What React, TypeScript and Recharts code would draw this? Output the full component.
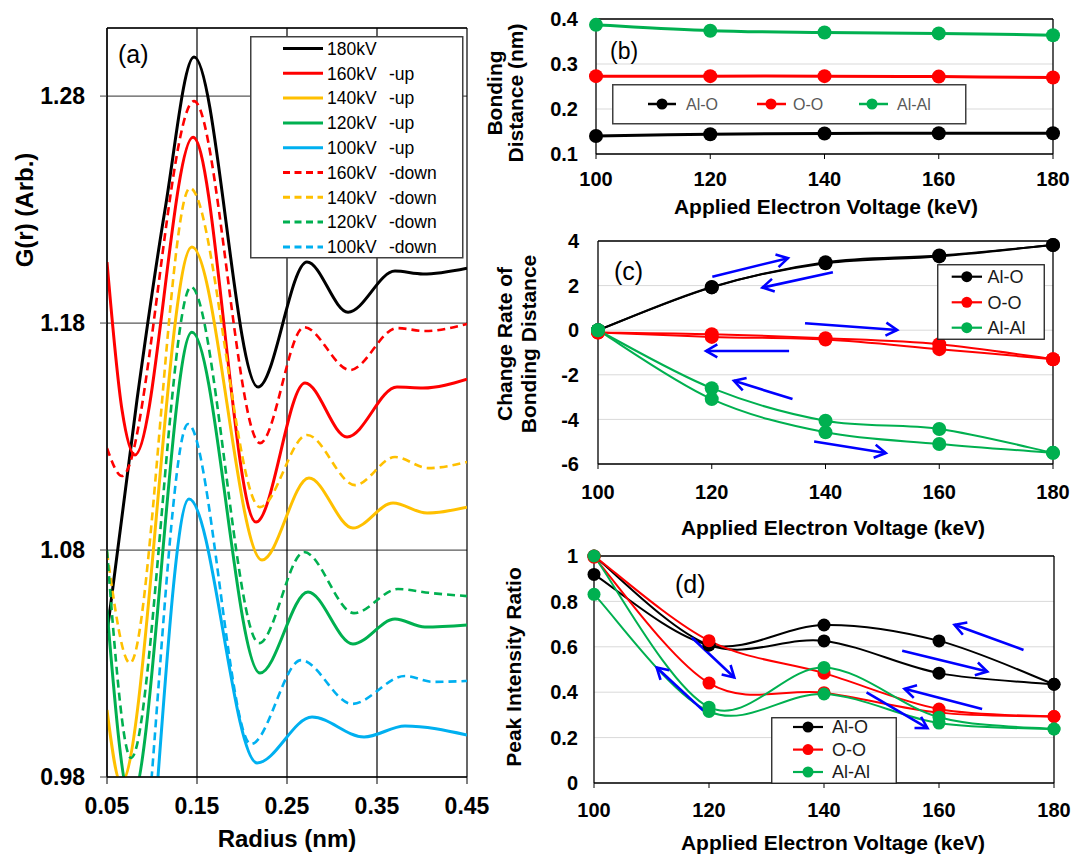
import React from 'react';
import { LineChart, Line, XAxis, YAxis, CartesianGrid, ReferenceLine, Legend } from 'recharts';

const FONT = '"Liberation Sans", Arial, Helvetica, sans-serif';

// ---------- Panel (a): G(r) curves ----------
const RADIUS_TICKS = [0.05, 0.15, 0.25, 0.35, 0.45];
const G_TICKS = [0.98, 1.08, 1.18, 1.28];
const G_DOMAIN = [0.98, 1.31];

const G_180KV = [[0.05, 1.0434], [0.0833, 1.1461], [0.1144, 1.2298], [0.1467, 1.2972], [0.2178, 1.1518], [0.2722, 1.2069], [0.3178, 1.1848], [0.37, 1.2029], [0.4011, 1.2016], [0.45, 1.2042]];
const G_160KV_UP = [[0.05, 1.2069], [0.0667, 1.1417], [0.0811, 1.1219], [0.1456, 1.2619], [0.2156, 1.0923], [0.27, 1.1536], [0.3167, 1.1298], [0.3722, 1.1518], [0.4011, 1.1514], [0.45, 1.1553]];
const G_140KV_UP = [[0.05, 1.0095], [0.0656, 0.9774], [0.1444, 1.2135], [0.2222, 1.0756], [0.2744, 1.1117], [0.3233, 1.0897], [0.3678, 1.1007], [0.4056, 1.0963], [0.45, 1.0989]];
const G_120KV_UP = [[0.05, 1.0536], [0.0767, 0.9694], [0.1444, 1.176], [0.22, 1.0258], [0.2733, 1.0615], [0.3233, 1.0386], [0.37, 1.0496], [0.4033, 1.0461], [0.45, 1.047]];
const G_100KV_UP = [[0.05, 0.8994], [0.0722, 0.8575], [0.1411, 1.1025], [0.2167, 0.9862], [0.2778, 1.0064], [0.3356, 0.9976], [0.3811, 1.0025], [0.45, 0.9985]];
const G_160KV_DOWN = [[0.05, 1.1249], [0.0667, 1.1126], [0.1467, 1.2778], [0.22, 1.1271], [0.2689, 1.1782], [0.32, 1.1593], [0.3722, 1.1778], [0.4033, 1.1765], [0.45, 1.1796]];
const G_140KV_DOWN = [[0.05, 1.0791], [0.0756, 1.0302], [0.1422, 1.2395], [0.22, 1.0989], [0.2722, 1.1307], [0.3256, 1.1086], [0.37, 1.121], [0.4067, 1.1161], [0.45, 1.1188]];
const G_120KV_DOWN = [[0.05, 1.08], [0.0767, 0.9884], [0.1433, 1.1959], [0.2189, 1.039], [0.2689, 1.0791], [0.3244, 1.0522], [0.3733, 1.0628], [0.4089, 1.0611], [0.45, 1.0597]];
const G_100KV_DOWN = [[0.05, 0.9346], [0.0733, 0.8981], [0.14, 1.1355], [0.21, 0.9945], [0.2656, 1.0315], [0.3222, 1.0122], [0.3811, 1.0245], [0.4122, 1.0219], [0.45, 1.0223]];

const G_SERIES = [
  { key: 'g180', label: '180kV', suffix: '', color: '#000000', dashed: false, pts: G_180KV },
  { key: 'g160u', label: '160kV', suffix: '-up', color: '#ff0000', dashed: false, pts: G_160KV_UP },
  { key: 'g140u', label: '140kV', suffix: '-up', color: '#ffc000', dashed: false, pts: G_140KV_UP },
  { key: 'g120u', label: '120kV', suffix: '-up', color: '#00b050', dashed: false, pts: G_120KV_UP },
  { key: 'g100u', label: '100kV', suffix: '-up', color: '#00b0f0', dashed: false, pts: G_100KV_UP },
  { key: 'g160d', label: '160kV', suffix: '-down', color: '#ff0000', dashed: true, pts: G_160KV_DOWN },
  { key: 'g140d', label: '140kV', suffix: '-down', color: '#ffc000', dashed: true, pts: G_140KV_DOWN },
  { key: 'g120d', label: '120kV', suffix: '-down', color: '#00b050', dashed: true, pts: G_120KV_DOWN },
  { key: 'g100d', label: '100kV', suffix: '-down', color: '#00b0f0', dashed: true, pts: G_100KV_DOWN },
];

// ---------- Panels (b)-(d) ----------
const VOLTAGES = [100, 120, 140, 160, 180];

const BOND_TICKS = [0.1, 0.2, 0.3, 0.4];
const BOND_ALO = [0.140, 0.144, 0.1456, 0.146, 0.146];
const BOND_OO = [0.273, 0.273, 0.273, 0.272, 0.270];
const BOND_ALAL = [0.387, 0.374, 0.370, 0.368, 0.364];

const RATE_TICKS = [-6, -4, -2, 0, 2, 4];
const RATE_ALO_UP = [0, 1.94, 3.0, 3.31, 3.82];
const RATE_ALO_DOWN = [0, 1.92, 3.05, 3.35, 3.82];
const RATE_OO_UP = [-0.1, -0.18, -0.36, -0.63, -1.3];
const RATE_OO_DOWN = [-0.1, -0.3, -0.42, -0.85, -1.3];
const RATE_ALAL_UP = [0, -3.09, -4.58, -5.1, -5.5];
const RATE_ALAL_DOWN = [0, -2.6, -4.06, -4.43, -5.5];

const PEAK_TICKS = [0, 0.2, 0.4, 0.6, 0.8, 1];
const PEAK_ALO_UP = [1.0, 0.608, 0.626, 0.484, 0.435];
const PEAK_ALO_DOWN = [0.919, 0.608, 0.696, 0.626, 0.435];
const PEAK_OO_UP = [1.0, 0.627, 0.484, 0.326, 0.293];
const PEAK_OO_DOWN = [0.995, 0.44, 0.398, 0.31, 0.293];
const PEAK_ALAL_UP = [1.0, 0.334, 0.509, 0.29, 0.238];
const PEAK_ALAL_DOWN = [0.831, 0.315, 0.392, 0.264, 0.238];

// blue direction arrows, in data units: [x1, y1, x2(head), y2(head)]
const RATE_ARROWS = [
  [120.1, 2.40, 133.4, 3.23],
  [141.3, 2.60, 128.9, 1.91],
  [136.4, 0.31, 152.6, 0.01],
  [133.6, -0.93, 119.0, -0.93],
  [134.2, -3.09, 123.9, -2.27],
  [138.0, -4.99, 150.6, -5.51],
];
const PEAK_ARROWS = [
  [117.0, 0.641, 124.4, 0.465],
  [119.0, 0.319, 110.9, 0.509],
  [174.7, 0.586, 162.7, 0.697],
  [153.6, 0.583, 168.4, 0.491],
  [167.5, 0.326, 154.0, 0.415],
  [147.4, 0.399, 158.0, 0.242],
];

const BLACK = '#000000';
const RED = '#ff0000';
const GREEN = '#00b050';

const BOND_TABLE = VOLTAGES.map((v, i) => ({ x: v, alo: BOND_ALO[i], oo: BOND_OO[i], alal: BOND_ALAL[i] }));
const RATE_TABLE = VOLTAGES.map((v, i) => ({
  x: v, aloUp: RATE_ALO_UP[i], aloDown: RATE_ALO_DOWN[i], ooUp: RATE_OO_UP[i], ooDown: RATE_OO_DOWN[i],
  alalUp: RATE_ALAL_UP[i], alalDown: RATE_ALAL_DOWN[i],
}));
const PEAK_TABLE = VOLTAGES.map((v, i) => ({
  x: v, aloUp: PEAK_ALO_UP[i], aloDown: PEAK_ALO_DOWN[i], ooUp: PEAK_OO_UP[i], ooDown: PEAK_OO_DOWN[i],
  alalUp: PEAK_ALAL_UP[i], alalDown: PEAK_ALAL_DOWN[i],
}));

const BONDS = [
  { name: 'Al-O', color: BLACK },
  { name: 'O-O', color: RED },
  { name: 'Al-Al', color: GREEN },
];

// Excel-like smoothed line (Catmull-Rom as cubic Bezier)
function excelCurve(context: any) {
  let pts: number[][] = [];
  return {
    areaStart() {},
    areaEnd() {},
    lineStart() { pts = []; },
    point(x: number, y: number) { pts.push([+x, +y]); },
    lineEnd() {
      const n = pts.length;
      if (!n) return;
      context.moveTo(pts[0][0], pts[0][1]);
      if (n === 2) { context.lineTo(pts[1][0], pts[1][1]); return; }
      for (let i = 0; i < n - 1; i++) {
        const p0 = pts[Math.max(i - 1, 0)];
        const p1 = pts[i];
        const p2 = pts[i + 1];
        const p3 = pts[Math.min(i + 2, n - 1)];
        context.bezierCurveTo(
          p1[0] + (p2[0] - p0[0]) / 6, p1[1] + (p2[1] - p0[1]) / 6,
          p2[0] - (p3[0] - p1[0]) / 6, p2[1] - (p3[1] - p1[1]) / 6,
          p2[0], p2[1]
        );
      }
    },
  };
}

const ArrowShape = (p: any) => {
  const x1 = +p.x1, y1 = +p.y1, x2 = +p.x2, y2 = +p.y2;
  const ang = Math.atan2(y2 - y1, x2 - x1);
  const L = 13, a = Math.PI / 6;
  const hx1 = x2 - L * Math.cos(ang - a), hy1 = y2 - L * Math.sin(ang - a);
  const hx2 = x2 - L * Math.cos(ang + a), hy2 = y2 - L * Math.sin(ang + a);
  return (
    <g>
      <line x1={x1} y1={y1} x2={x2} y2={y2} stroke="#0000ff" strokeWidth={2.6} />
      <polyline points={`${hx1},${hy1} ${x2},${y2} ${hx2},${hy2}`} fill="none" stroke="#0000ff" strokeWidth={2.6} />
    </g>
  );
};

const GLegend = () => (
  <svg width={214} height={223} style={{ display: 'block' }}>
    <rect x={0.75} y={0.75} width={212} height={221} fill="#ffffff" stroke="#404040" strokeWidth={1.5} />
    {G_SERIES.map((s, i) => {
      const cy = 12.5 + i * 24.8;
      return (
        <g key={s.key}>
          <line x1={33} x2={73} y1={cy} y2={cy} stroke={s.color} strokeWidth={3} strokeDasharray={s.dashed ? '7 4.5' : undefined} />
          <text x={77} y={cy + 6.2} fontSize={17.5} fontFamily={FONT} fill="#000">{s.label}</text>
          {s.suffix ? <text x={139} y={cy + 6.2} fontSize={17.5} fontFamily={FONT} fill="#000">{s.suffix}</text> : null}
        </g>
      );
    })}
  </svg>
);

const BondLegendRow = () => {
  const items = [
    { l1: 36, l2: 64, m: 50, t: 74 },
    { l1: 145, l2: 174, m: 159, t: 181 },
    { l1: 247, l2: 276, m: 260, t: 285 },
  ];
  return (
    <svg width={355} height={41} style={{ display: 'block' }}>
      <rect x={0.75} y={0.75} width={353} height={39} fill="#ffffff" stroke="#404040" strokeWidth={1.5} />
      {BONDS.map((b, i) => (
        <g key={b.name}>
          <line x1={items[i].l1} x2={items[i].l2} y1={20} y2={20} stroke={b.color} strokeWidth={2.5} />
          <circle cx={items[i].m} cy={20} r={5.5} fill={b.color} />
          <text x={items[i].t} y={25.7} fontSize={16} fontFamily={FONT} fill="#595959">{b.name}</text>
        </g>
      ))}
    </svg>
  );
};

const BondLegendColumn = ({ w, h, rows, l1, l2, m, t }: any) => (
  <svg width={w} height={h} style={{ display: 'block' }}>
    <rect x={0.75} y={0.75} width={w - 1.5} height={h - 1.5} fill="#ffffff" stroke="#202020" strokeWidth={1.3} />
    {BONDS.map((b, i) => (
      <g key={b.name}>
        <line x1={l1} x2={l2} y1={rows[i]} y2={rows[i]} stroke={b.color} strokeWidth={2.2} />
        <circle cx={m} cy={rows[i]} r={5.5} fill={b.color} />
        <text x={t} y={rows[i] + 6.4} fontSize={18} fontFamily={FONT} fill="#1a1a1a">{b.name}</text>
      </g>
    ))}
  </svg>
);

const tickBig = { fontSize: 23, fontWeight: 700, fill: '#000', fontFamily: FONT };
const tickSmall = { fontSize: 20, fontWeight: 700, fill: '#000', fontFamily: FONT };
const axisLine = { stroke: '#000', strokeWidth: 1.3 };

const dotStyle = (c: string, r: number) => ({ r, fill: c, stroke: c, strokeWidth: 0 });

const seriesLine = (key: string, color: string, width: number, r: number) => (
  <Line
    key={key}
    dataKey={key}
    type={excelCurve as any}
    stroke={color}
    strokeWidth={width}
    dot={dotStyle(color, r)}
    activeDot={false}
    isAnimationActive={false}
  />
);

const arrows = (list: number[][], prefix: string) =>
  list.map((a, i) => (
    <ReferenceLine
      key={prefix + i}
      segment={[{ x: a[0], y: a[1] }, { x: a[2], y: a[3] }]}
      shape={ArrowShape}
      ifOverflow="visible"
    />
  ));

const titleStyle = { fontFamily: FONT, fontWeight: 700 } as any;

export default function App() {
  return (
    <div style={{ position: 'absolute', left: 0, top: 0, width: 1072, height: 854, background: '#ffffff', overflow: 'hidden' }}>
      {/* Panel (a) */}
      <div style={{ position: 'absolute', left: 0, top: 0 }}>
        <LineChart width={500} height={854} margin={{ top: 28, right: 33, bottom: 27, left: 7 }}>
          <CartesianGrid vertical={false} stroke="#595959" strokeWidth={1.2} />
          <CartesianGrid horizontal={false} stroke="#000000" strokeWidth={1.2} />
          <XAxis type="number" dataKey="x" domain={[0.05, 0.45]} ticks={RADIUS_TICKS} interval={0} allowDataOverflow
            height={50} tickSize={7} tickMargin={14} tick={tickBig} axisLine={axisLine} tickLine={{ stroke: '#000' }} />
          <YAxis type="number" domain={G_DOMAIN} ticks={G_TICKS} interval={0} allowDataOverflow
            width={100} tickSize={7} tickMargin={15} tick={tickBig} axisLine={axisLine} tickLine={{ stroke: '#404040' }} />
          <ReferenceLine y={1.31} stroke="#000" strokeWidth={1.3} ifOverflow="visible" />
          {G_SERIES.map((s) => (
            <Line
              key={s.key}
              data={s.pts.map(([x, y]) => ({ x, y }))}
              dataKey="y"
              name={s.label + ' ' + s.suffix}
              type="monotone"
              stroke={s.color}
              strokeWidth={s.dashed ? 2.6 : 3}
              strokeDasharray={s.dashed ? '8 5' : undefined}
              dot={false}
              activeDot={false}
              isAnimationActive={false}
            />
          ))}
          <Legend layout="horizontal" verticalAlign="middle" align="center"
            wrapperStyle={{ left: 250, top: 36, width: 214, height: 223 }} content={() => <GLegend />} />
        </LineChart>
      </div>

      {/* Panel (b) */}
      <div style={{ position: 'absolute', left: 480, top: 0 }}>
        <LineChart width={592} height={230} data={BOND_TABLE} margin={{ top: 19, right: 19, bottom: 36, left: 16 }}>
          <CartesianGrid vertical={false} stroke="#d9d9d9" />
          <XAxis type="number" dataKey="x" domain={[100, 180]} ticks={VOLTAGES} interval={0}
            height={40} tickSize={5} tickMargin={13} tick={tickSmall} axisLine={axisLine} tickLine={{ stroke: '#000' }} />
          <YAxis type="number" domain={[0.1, 0.4]} ticks={BOND_TICKS} interval={0}
            width={100} tickSize={0} tickMargin={18} tick={tickSmall} axisLine={axisLine} tickLine={false} />
          <ReferenceLine y={0.4} stroke="#000" strokeWidth={1.3} />
          <ReferenceLine x={180} stroke="#000" strokeWidth={1.3} />
          {seriesLine('alo', BLACK, 3, 7)}
          {seriesLine('oo', RED, 3, 7)}
          {seriesLine('alal', GREEN, 3, 7)}
          <Legend layout="horizontal" verticalAlign="middle" align="center"
            wrapperStyle={{ left: 132, top: 84, width: 355, height: 41 }} content={() => <BondLegendRow />} />
        </LineChart>
      </div>

      {/* Panel (c) */}
      <div style={{ position: 'absolute', left: 480, top: 220 }}>
        <LineChart width={592} height={330} data={RATE_TABLE} margin={{ top: 21, right: 19, bottom: 46, left: 18 }}>
          <CartesianGrid vertical={false} stroke="#d9d9d9" />
          <XAxis type="number" dataKey="x" domain={[100, 180]} ticks={VOLTAGES} interval={0}
            height={40} tickSize={5} tickMargin={16} tick={tickSmall} axisLine={axisLine} tickLine={{ stroke: '#000' }} />
          <YAxis type="number" domain={[-6, 4]} ticks={RATE_TICKS} interval={0}
            width={100} tickSize={0} tickMargin={19} tick={tickSmall} axisLine={axisLine} tickLine={false} />
          <ReferenceLine y={4} stroke="#000" strokeWidth={1.3} />
          <ReferenceLine x={180} stroke="#000" strokeWidth={1.3} />
          {seriesLine('aloUp', BLACK, 2, 7)}
          {seriesLine('aloDown', BLACK, 2, 7)}
          {seriesLine('ooUp', RED, 2, 7)}
          {seriesLine('ooDown', RED, 2, 7)}
          {seriesLine('alalUp', GREEN, 2, 7)}
          {seriesLine('alalDown', GREEN, 2, 7)}
          {arrows(RATE_ARROWS, 'ra')}
          <Legend layout="horizontal" verticalAlign="middle" align="center"
            wrapperStyle={{ left: 457, top: 44, width: 108, height: 76 }}
            content={() => <BondLegendColumn w={108} h={76} rows={[12.7, 38.3, 63.7]} l1={14.7} l2={45} m={29.8} t={50.5} />} />
        </LineChart>
      </div>

      {/* Panel (d) */}
      <div style={{ position: 'absolute', left: 480, top: 536 }}>
        <LineChart width={592} height={318} data={PEAK_TABLE} margin={{ top: 20, right: 18, bottom: 31, left: 14 }}>
          <CartesianGrid vertical={false} stroke="#d9d9d9" />
          <XAxis type="number" dataKey="x" domain={[100, 180]} ticks={VOLTAGES} interval={0}
            height={40} tickSize={5} tickMargin={15} tick={tickSmall} axisLine={axisLine} tickLine={{ stroke: '#000' }} />
          <YAxis type="number" domain={[0, 1]} ticks={PEAK_TICKS} interval={0}
            width={100} tickSize={0} tickMargin={16} tick={tickSmall} axisLine={axisLine} tickLine={false} />
          <ReferenceLine y={1} stroke="#000" strokeWidth={1.3} />
          <ReferenceLine x={180} stroke="#000" strokeWidth={1.3} />
          {seriesLine('aloUp', BLACK, 2, 6.5)}
          {seriesLine('aloDown', BLACK, 2, 6.5)}
          {seriesLine('ooUp', RED, 2, 6.5)}
          {seriesLine('ooDown', RED, 2, 6.5)}
          {seriesLine('alalDown', GREEN, 2, 6.5)}
          {seriesLine('alalUp', GREEN, 2, 6.5)}
          {arrows(PEAK_ARROWS, 'pa')}
          <Legend layout="horizontal" verticalAlign="middle" align="center"
            wrapperStyle={{ left: 291, top: 181, width: 126, height: 67 }}
            content={() => <BondLegendColumn w={126} h={67} rows={[10, 32.6, 55]} l1={22} l2={52} m={37} t={61} />} />
        </LineChart>
      </div>

      {/* Titles and panel labels */}
      <svg width={1072} height={854} style={{ position: 'absolute', left: 0, top: 0, pointerEvents: 'none' }}>
        <text x={118} y={63} fontSize={25} fontFamily={FONT} fill="#000">(a)</text>
        <text transform="translate(33,210) rotate(-90)" textAnchor="middle" fontSize={24} style={titleStyle} fill="#000">G(r) (Arb.)</text>
        <text x={287} y={847} textAnchor="middle" fontSize={24} style={titleStyle} fill="#000">Radius (nm)</text>

        <text x={610} y={59} fontSize={23} fontFamily={FONT} fill="#000">(b)</text>
        <text transform="translate(502,93) rotate(-90)" textAnchor="middle" fontSize={21} style={titleStyle} fill="#000">Bonding</text>
        <text transform="translate(523,93) rotate(-90)" textAnchor="middle" fontSize={21} style={titleStyle} fill="#000">Distance (nm)</text>
        <text x={826} y={214} textAnchor="middle" fontSize={21} style={titleStyle} fill="#000">Applied Electron Voltage (keV)</text>

        <text x={614} y={280} fontSize={25} fontFamily={FONT} fill="#000">(c)</text>
        <text transform="translate(512,344) rotate(-90)" textAnchor="middle" fontSize={21} style={titleStyle} fill="#000">Change Rate of</text>
        <text transform="translate(536,344) rotate(-90)" textAnchor="middle" fontSize={21} style={titleStyle} fill="#000">Bonding Distance</text>
        <text x={833} y={535} textAnchor="middle" fontSize={21} style={titleStyle} fill="#000">Applied Electron Voltage (keV)</text>

        <text x={675} y={593} fontSize={25} fontFamily={FONT} fill="#000">(d)</text>
        <text transform="translate(521,667) rotate(-90)" textAnchor="middle" fontSize={21} style={titleStyle} fill="#000">Peak Intensity Ratio</text>
        <text x={833} y={850} textAnchor="middle" fontSize={21} style={titleStyle} fill="#000">Applied Electron Voltage (keV)</text>
      </svg>
    </div>
  );
}
